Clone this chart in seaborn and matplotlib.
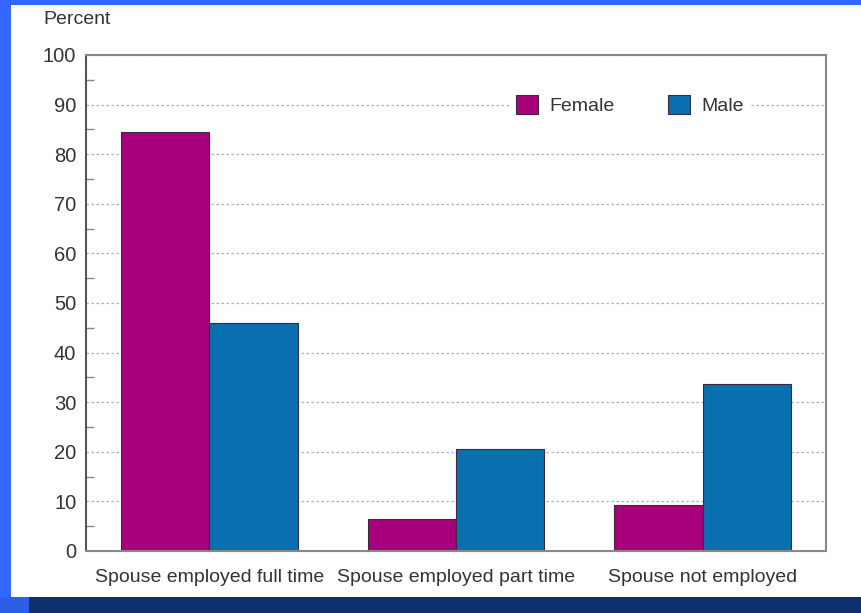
import pandas as pd
import seaborn as sns
import matplotlib.pyplot as plt
from matplotlib.patches import Rectangle
from matplotlib.ticker import MultipleLocator

# Data
categories = ["Spouse employed full time", "Spouse employed part time", "Spouse not employed"]
female = [84.5, 6.5, 9.3]
male = [46.0, 20.6, 33.7]

df = pd.DataFrame({
    "Category": categories * 2,
    "Sex": ["Female"] * 3 + ["Male"] * 3,
    "Percent": female + male,
})

sns.set_style("white")
plt.rcParams["font.family"] = ["Liberation Sans", "DejaVu Sans"]

fig = plt.figure(figsize=(8.62, 6.13), dpi=100)
fig.patch.set_facecolor("#3366ff")

# white slide panel and dark footer band (drawn behind the axes)
fig.patches.append(Rectangle((11 / 862, 16 / 613), 1, 592 / 613, transform=fig.transFigure,
                             facecolor="white", edgecolor="none", zorder=-5))
fig.patches.append(Rectangle((0, 0), 29 / 862, 16 / 613, transform=fig.transFigure,
                             facecolor="#2a5fe6", edgecolor="none", zorder=-5))
fig.patches.append(Rectangle((29 / 862, 0), 1, 16 / 613, transform=fig.transFigure,
                             facecolor="#10306e", edgecolor="none", zorder=-5))

ax = fig.add_axes([86 / 862, 62 / 613, 740 / 862, 496 / 613])
palette = {"Female": "#a8007a", "Male": "#0a6fae"}
sns.barplot(data=df, x="Category", y="Percent", hue="Sex", palette=palette,
            width=0.715, saturation=1, edgecolor="#3a2a40", linewidth=0.8, ax=ax)

ax.set_ylim(0, 100)
ax.set_xlim(-0.5, 2.5)
ax.yaxis.set_major_locator(MultipleLocator(10))
ax.yaxis.set_minor_locator(MultipleLocator(5))
ax.set_axisbelow(True)
ax.grid(axis="y", which="major", linestyle=(0, (2, 2)), color="#b0b0b0", linewidth=0.9)
ax.tick_params(axis="y", which="major", length=0, pad=7, labelsize=14.5, labelcolor="#333333")
ax.tick_params(axis="y", which="minor", direction="in", length=6, width=1, color="#888888", left=True)
ax.tick_params(axis="x", length=0, pad=13, labelsize=14, labelcolor="#333333")
ax.set_xlabel("")
ax.set_ylabel("")
ax.set_facecolor("white")
for s in ax.spines.values():
    s.set_color("#888888")
    s.set_linewidth(1.5)
ax.spines["left"].set_color("#555555")

ax.text(-0.057, 1.0706, "Percent", transform=ax.transAxes, fontsize=14, color="#333333",
        ha="left", va="center")

leg = ax.legend(loc="center", bbox_to_anchor=(0.735, 0.899), ncol=2, frameon=True,
                fontsize=14, handlelength=1.15, handleheight=1.15, columnspacing=2.7,
                handletextpad=0.6, borderpad=0.3)
leg.get_frame().set_facecolor("white")
leg.get_frame().set_edgecolor("none")
leg.get_frame().set_alpha(1)
for t in leg.get_texts():
    t.set_color("#333333")

fig.savefig("out.png", dpi=100, facecolor=fig.get_facecolor())
